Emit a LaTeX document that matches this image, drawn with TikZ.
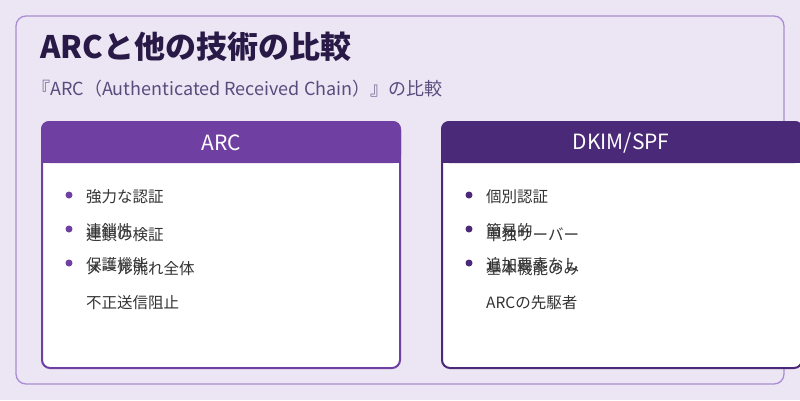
\documentclass[tikz,border=0pt]{standalone}
\usepackage{fontspec}
\setmainfont{Noto Sans CJK JP}
\definecolor{pa}{RGB}{111,64,162}
\definecolor{pb}{RGB}{74,42,120}
\definecolor{bg}{RGB}{236,230,244}
\definecolor{bd}{RGB}{170,140,210}
\definecolor{tt}{RGB}{40,25,70}
\definecolor{st}{RGB}{90,75,125}
\begin{document}
\begin{tikzpicture}[x=1pt,y=-1pt,
  card/.style={draw=#1,line width=2pt,fill=white,rounded corners=8pt},
  txt/.style={anchor=west,font=\fontsize{15.5}{17}\selectfont,text=black!80,inner sep=0},
  dot/.style={circle,fill=#1,inner sep=0,minimum size=7pt}]
\useasboundingbox (0,0) rectangle (800,400);
\fill[bg] (0,0) rectangle (800,400);
\draw[draw=bd,line width=1.3pt,fill=bg,rounded corners=10pt] (16,16) rectangle (784,384);
\node[anchor=west,inner sep=0,font=\bfseries\fontsize{31}{34}\selectfont,text=tt] (title) at (40,47) {ARCと他の技術の比較};
\node[anchor=west,inner sep=0,font=\fontsize{18}{20}\selectfont,text=st] (sub) at (32,89) {『ARC（Authenticated Received Chain）』の比較};
\draw[card=pa] (42,122) rectangle (400,368);
\fill[pa,rounded corners=8pt] (41,121) rectangle (401,163);
\fill[pa] (41,150) rectangle (401,163);
\node[font=\fontsize{21}{23}\selectfont,text=white] (ha) at (221,143) {ARC};
\draw[card=pb] (442,122) rectangle (802,368);
\fill[pb,rounded corners=8pt] (441,121) rectangle (803,163);
\fill[pb] (441,150) rectangle (803,163);
\node[font=\fontsize{21}{23}\selectfont,text=white] (hb) at (621,143) {DKIM/SPF};
\node[dot=pa] (da1) at (69,195) {};
\node[dot=pa] (da2) at (69,229) {};
\node[dot=pa] (da3) at (69,263) {};
\node[txt] (a1) at (86,197) {強力な認証};
\node[txt] (a2) at (86,231) {連鎖性};
\node[txt] (a2b) at (86,235) {連鎖の検証};
\node[txt] (a3) at (86,265) {保護機能};
\node[txt] (a3b) at (86,269) {メール流れ全体};
\node[txt] (a4) at (86,303) {不正送信阻止};
\node[dot=pb] (db1) at (469,195) {};
\node[dot=pb] (db2) at (469,229) {};
\node[dot=pb] (db3) at (469,263) {};
\node[txt] (b1) at (486,197) {個別認証};
\node[txt] (b2) at (486,231) {簡易的};
\node[txt] (b2b) at (486,235) {単独サーバー};
\node[txt] (b3) at (486,265) {追加要素なし};
\node[txt] (b3b) at (486,269) {基本機能のみ};
\node[txt] (b4) at (486,303) {ARCの先駆者};
\end{tikzpicture}
\end{document}
